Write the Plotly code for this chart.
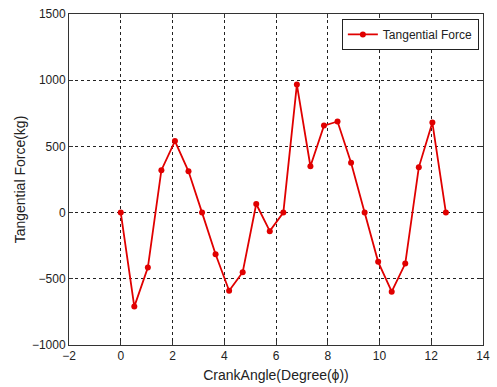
import numpy as np
import plotly.graph_objects as go

angles_deg = list(range(0, 721, 30))
crank_angle = [a * np.pi / 180 for a in angles_deg]
tangential_force = [0, -710, -415, 320, 540, 312, 0, -315, -590, -450, 65, -140,
                    0, 967, 350, 657, 688, 377, 0, -372, -597, -385, 342, 680, 0]

x_ticks = list(range(-2, 15, 2))
y_ticks = list(range(-1000, 1501, 500))

fig = go.Figure()
fig.add_trace(go.Scatter(
    x=crank_angle, y=tangential_force, mode="lines+markers",
    name="Tangential Force",
    line=dict(color="#e00000", width=1.8),
    marker=dict(color="#e00000", size=6, symbol="circle"),
))

axis_common = dict(
    showline=True, linecolor="#333", linewidth=1, mirror="ticks",
    ticks="inside", ticklen=4, tickcolor="#333",
    showgrid=True, gridcolor="#222", griddash="dot", gridwidth=1,
    zeroline=False, tickfont=dict(size=12, color="#222"),
)
fig.update_xaxes(range=[-2, 14], tickvals=x_ticks,
                 title=dict(text="CrankAngle(Degree(ϕ))", font=dict(size=14, color="#222"), standoff=7),
                 **axis_common)
fig.update_yaxes(range=[-1000, 1500], tickvals=y_ticks,
                 title=dict(text="Tangential Force(kg)", font=dict(size=14, color="#222"), standoff=2),
                 **axis_common)

fig.update_layout(
    width=497, height=387,
    margin=dict(l=69, r=7, t=12, b=41),
    paper_bgcolor="white", plot_bgcolor="white",
    font=dict(family="Liberation Sans, Arial, sans-serif"),
    showlegend=True,
    legend=dict(x=0.99, y=0.985, xanchor="right", yanchor="top",
                bgcolor="white", bordercolor="#222", borderwidth=1,
                font=dict(size=12, color="#222"), itemwidth=30,
                tracegroupgap=0),
)
fig.write_html("out.html")
